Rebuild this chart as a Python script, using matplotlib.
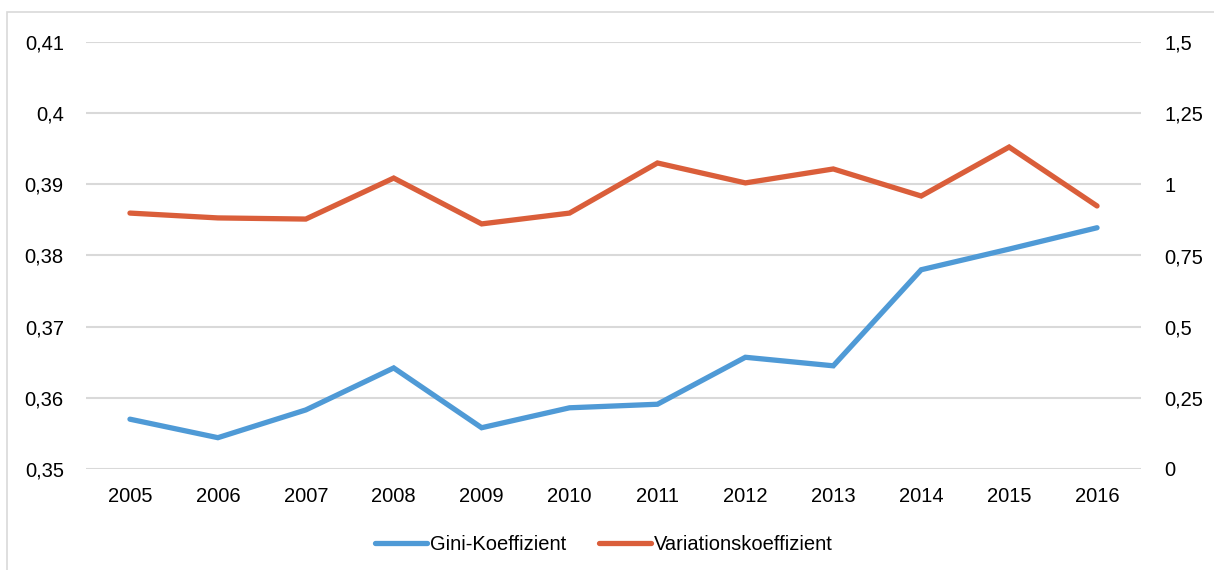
import matplotlib.pyplot as plt
from matplotlib.patches import Rectangle

plt.rcParams['font.family'] = ['Liberation Sans', 'DejaVu Sans']

years = ['2005', '2006', '2007', '2008', '2009', '2010',
         '2011', '2012', '2013', '2014', '2015', '2016']
gini = [0.3570, 0.3544, 0.3583, 0.3642, 0.3558, 0.3586,
        0.3591, 0.3657, 0.3645, 0.3780, 0.3809, 0.3839]
variation = [0.899, 0.882, 0.878, 1.022, 0.861, 0.899,
             1.075, 1.005, 1.054, 0.959, 1.131, 0.924]

left_ticks = [0.35, 0.36, 0.37, 0.38, 0.39, 0.40, 0.41]
left_labels = ['0,35', '0,36', '0,37', '0,38', '0,39', '0,4', '0,41']
right_ticks = [0, 0.25, 0.5, 0.75, 1.0, 1.25, 1.5]
right_labels = ['0', '0,25', '0,5', '0,75', '1', '1,25', '1,5']

blue = '#4F9AD6'
orange = '#DA5E3A'
grid = '#D9D9D9'

fig = plt.figure(figsize=(12.14, 5.7), dpi=100)
fig.patches.append(Rectangle((7 / 1214, -0.1), 1.2, 1 - 12 / 570 + 0.1,
                             transform=fig.transFigure, fill=False,
                             edgecolor='#D9D9D9', linewidth=1.2))

ax = fig.add_axes([86 / 1214, 1 - 469 / 570, (1141 - 86) / 1214, (469 - 42) / 570])
ax2 = ax.twinx()

x = list(range(len(years)))
for y in left_ticks:
    ax.axhline(y, color=grid, linewidth=1.5, zorder=0)

l1, = ax.plot(x, gini, color=blue, linewidth=3.8, solid_capstyle='round',
              solid_joinstyle='miter', label='Gini-Koeffizient')
l2, = ax2.plot(x, variation, color=orange, linewidth=3.8, solid_capstyle='round',
               solid_joinstyle='miter', label='Variationskoeffizient')

ax.set_xlim(-0.5, 11.5)
ax.set_ylim(0.35, 0.41)
ax2.set_ylim(0, 1.5)
ax.set_xticks(x)
ax.set_xticklabels(years)
ax.set_yticks(left_ticks)
ax.set_yticklabels(left_labels)
ax2.set_yticks(right_ticks)
ax2.set_yticklabels(right_labels)

for a in (ax, ax2):
    for s in a.spines.values():
        s.set_visible(False)
    a.tick_params(length=0, labelsize=14.5, colors='#000000')
ax.tick_params(axis='y', pad=16)
ax2.tick_params(axis='y', pad=17)
ax.tick_params(axis='x', pad=13)

fig.legend([l1, l2], ['Gini-Koeffizient', 'Variationskoeffizient'],
           loc='center', bbox_to_anchor=(604 / 1214, 1 - 545 / 570),
           ncol=2, frameon=False, fontsize=14.5, handlelength=2.6,
           handletextpad=0.15, columnspacing=1.6)

fig.savefig('out.png', dpi=100)
